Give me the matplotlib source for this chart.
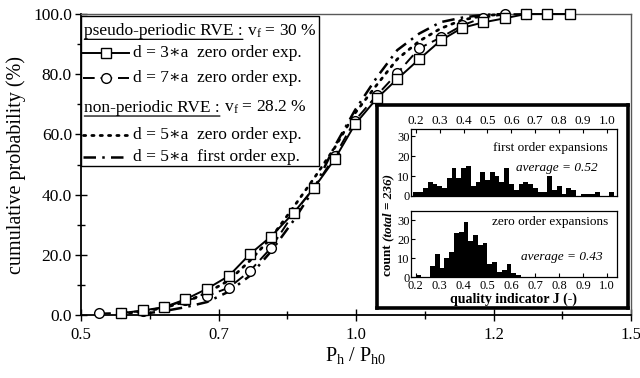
import matplotlib
matplotlib.use('Agg')
import matplotlib.pyplot as plt
from matplotlib.ticker import FixedLocator, MultipleLocator
from matplotlib.patches import Rectangle
from matplotlib.lines import Line2D

plt.rcParams['font.family'] = ['Liberation Serif', 'DejaVu Serif']
plt.rcParams['mathtext.fontset'] = 'custom'
plt.rcParams['mathtext.rm'] = 'Liberation Serif'
plt.rcParams['mathtext.it'] = 'Liberation Serif:italic'
plt.rcParams['mathtext.bf'] = 'Liberation Serif:bold'

# ---------------- data ----------------
# pseudo-periodic RVE, d = 3*a, zero order
x_d3 = [0.573, 0.612, 0.651, 0.690, 0.729, 0.769, 0.807, 0.845, 0.887, 0.924, 0.961,
        0.998, 1.038, 1.075, 1.115, 1.154, 1.193, 1.231, 1.271, 1.309, 1.347, 1.389]
y_d3 = [0.6, 1.5, 2.6, 5.2, 8.7, 13.0, 20.2, 26.0, 34.0, 42.3, 51.7,
        63.3, 72.0, 78.4, 85.0, 91.2, 95.4, 97.2, 98.6, 100.0, 100.0, 100.0]
# pseudo-periodic RVE, d = 7*a, zero order
x_d7 = [0.533, 0.573, 0.612, 0.651, 0.690, 0.729, 0.769, 0.807, 0.845, 0.887, 0.924,
        0.961, 0.998, 1.038, 1.075, 1.115, 1.154, 1.193, 1.231, 1.271, 1.309]
y_d7 = [0.5, 0.7, 1.3, 2.5, 4.9, 6.3, 9.1, 14.6, 22.2, 33.8, 42.3,
        52.7, 64.6, 73.0, 80.3, 88.6, 92.2, 96.2, 98.8, 99.9, 100.0]
# non-periodic RVE, d = 5*a, zero order
x_np0 = [0.573, 0.612, 0.651, 0.690, 0.729, 0.769, 0.807, 0.845, 0.887, 0.924,
         0.961, 0.998, 1.038, 1.075, 1.115, 1.154, 1.193, 1.231, 1.271]
y_np0 = [0.4, 1.1, 2.4, 4.4, 7.4, 11.5, 18.0, 25.5, 36.0, 45.5,
         55.5, 67.0, 76.5, 85.0, 91.0, 95.2, 98.0, 99.4, 100.0]
# non-periodic RVE, d = 5*a, first order
x_np1 = [0.612, 0.651, 0.690, 0.729, 0.769, 0.807, 0.845, 0.887, 0.924,
         0.961, 0.998, 1.038, 1.075, 1.115, 1.154, 1.193, 1.231, 1.271]
y_np1 = [0.4, 1.3, 2.6, 4.3, 7.8, 13.0, 21.0, 31.5, 42.0,
         56.0, 68.0, 79.0, 88.0, 93.5, 97.3, 98.8, 99.7, 100.0]

x_ticks = [0.5, 0.75, 1.0, 1.25, 1.5]
x_ticklabels = ['0.5', '0.7', '1.0', '1.2', '1.5']
y_ticks = [0, 20, 40, 60, 80, 100]
y_ticklabels = ['0.0', '20.0', '40.0', '60.0', '80.0', '100.0']

# inset histograms (quality indicator J)
j_first = [0.20, 0.22, 0.24, 0.26, 0.28, 0.30, 0.32, 0.34, 0.36, 0.38, 0.40, 0.42,
           0.44, 0.46, 0.48, 0.50, 0.52, 0.54, 0.56, 0.58, 0.60, 0.62, 0.64, 0.66,
           0.68, 0.70, 0.72, 0.74, 0.76, 0.78, 0.80, 0.82, 0.84, 0.86, 0.88, 0.90,
           0.92, 0.94, 0.96, 0.98, 1.00, 1.02]
n_first = [2, 2, 4, 7, 6, 5, 4, 9, 14, 9, 14, 15,
           5, 7, 12, 8, 12, 10, 7, 14, 6, 3, 6, 7,
           6, 4, 2, 2, 10, 3, 5, 1, 4, 3, 0, 1,
           1, 1, 2, 0, 0, 2]
j_zero = [0.21, 0.23, 0.25, 0.27, 0.29, 0.31, 0.33, 0.35, 0.37, 0.39, 0.41, 0.43,
          0.45, 0.47, 0.49, 0.51, 0.53, 0.55, 0.57, 0.59, 0.61, 0.63, 0.65, 0.67, 0.69]
n_zero = [1, 0, 0, 6, 12, 5, 10, 13, 23, 24, 29, 19,
          22, 17, 18, 7, 8, 3, 4, 7, 2, 1, 0.3, 0.3, 0.3]
hist_ticks = [0.2, 0.3, 0.4, 0.5, 0.6, 0.7, 0.8, 0.9, 1.0]
hist_ticklabels = ['0.2', '0.3', '0.4', '0.5', '0.6', '0.7', '0.8', '0.9', '1.0']
count_ticks = [0, 10, 20, 30]

# ---------------- figure ----------------
W, H = 640, 378
fig = plt.figure(figsize=(W / 100, H / 100), dpi=100)
ax = fig.add_axes([81 / W, 63 / H, 550 / W, 301 / H])

ax.plot(x_np0, y_np0, color='k', lw=2.0, ls=(0, (0.8, 2.2)), dash_capstyle='round',
        clip_on=False, zorder=3)
ax.plot(x_np1, y_np1, color='k', lw=1.8, ls=(0, (5, 2.5, 1, 2.5)), clip_on=False, zorder=3)
ax.plot(x_d7, y_d7, color='k', lw=1.4, ls=(0, (6, 3)), marker='o', ms=7, mfc='white',
        mec='k', mew=1.0, clip_on=False, zorder=4)
ax.plot(x_d3, y_d3, color='k', lw=1.4, ls='-', marker='s', ms=6.5, mfc='white',
        mec='k', mew=1.0, clip_on=False, zorder=5)

ax.set_xlim(0.5, 1.5)
ax.set_ylim(0, 100)
ax.xaxis.set_major_locator(FixedLocator(x_ticks))
ax.set_xticklabels(x_ticklabels)
ax.xaxis.set_minor_locator(MultipleLocator(0.125))
ax.yaxis.set_major_locator(FixedLocator(y_ticks))
ax.set_yticklabels(y_ticklabels)
ax.yaxis.set_minor_locator(MultipleLocator(10))
ax.tick_params(which='major', direction='inout', length=9, width=1.0, labelsize=12.5)
ax.tick_params(which='minor', direction='inout', length=6, width=1.0)
ax.tick_params(axis='x', pad=4, labelsize=12)
ax.tick_params(axis='y', pad=2)
for s in ['left', 'bottom']:
    ax.spines[s].set_linewidth(1.3)
for s in ['top', 'right']:
    ax.spines[s].set_linewidth(1.0)
    ax.spines[s].set_color('0.35')

ax.set_ylabel('cumulative probability (%)', fontsize=14.5)
ax.yaxis.set_label_coords(-0.10, 0.5)
ax.set_xlabel(r'P$_\mathrm{h}$ / P$_\mathrm{h0}$', fontsize=14.5)
ax.xaxis.set_label_coords(0.5, -0.10)

# ---------------- legend (manual) ----------------
T = ax.transAxes
ax.add_patch(Rectangle((0.0, 0.495), 0.4327, 0.4984, transform=T, facecolor='white',
                       edgecolor='k', lw=1.0, zorder=6, clip_on=False))
fs_leg = 12.5

def header(y, left, right):
    t1 = ax.text(0.006, y, left, transform=T, fontsize=fs_leg, va='center', ha='left', zorder=7)
    ax.annotate(right, xy=(1, 0.5), xycoords=t1, va='center', ha='left', fontsize=fs_leg,
                zorder=7)
    ax.annotate('', xy=(0, -0.02), xycoords=t1, xytext=(1, -0.02), textcoords=t1,
                arrowprops=dict(arrowstyle='-', lw=0.9, color='k', shrinkA=0, shrinkB=0),
                zorder=7)

header(0.9435, 'pseudo-periodic RVE :', r' v$_\mathrm{f}$ = 30 %')
header(0.6887, 'non-periodic RVE :', r' v$_\mathrm{f}$ = 28.2 %')

rows = [
    (0.8714, dict(color='k', lw=1.4, ls='-', marker='s', ms=6.5, mfc='white', mec='k', mew=1.0),
     'd = 3\u2217a  zero order exp.'),
    (0.7864, dict(color='k', lw=1.4, ls=(0, (6, 3)), marker='o', ms=7, mfc='white', mec='k', mew=1.0),
     'd = 7\u2217a  zero order exp.'),
    (0.598, dict(color='k', lw=2.0, ls=(0, (0.8, 2.2)), dash_capstyle='round'),
     'd = 5\u2217a  zero order exp.'),
    (0.5259, dict(color='k', lw=1.8, ls=(0, (5, 2.5, 1, 2.5))),
     'd = 5\u2217a  first order exp.'),
]
for y, style, label in rows:
    ln = Line2D([0.003, 0.0455, 0.088], [y, y, y], transform=T, zorder=7, clip_on=False,
                markevery=[1], **style)
    ax.add_line(ln)
    ax.text(0.095, y, label, transform=T, fontsize=fs_leg, va='center', ha='left', zorder=7)

# ---------------- inset ----------------
bg = fig.add_axes([377 / W, 70 / H, 251 / W, 203 / H], zorder=10)
bg.set_xticks([])
bg.set_yticks([])
for s in bg.spines.values():
    s.set_linewidth(2.6)

axh1 = fig.add_axes([411 / W, 182 / H, 206 / W, 66.7 / H], zorder=11)
axh2 = fig.add_axes([411 / W, 100.7 / H, 206 / W, 66.6 / H], zorder=11)

axh1.bar(j_first, n_first, width=0.02, color='k', align='center', linewidth=0)
axh2.bar(j_zero, n_zero, width=0.02, color='k', align='center', linewidth=0)

for a, top in [(axh1, 33.4), (axh2, 34.9)]:
    a.set_xlim(0.18, 1.042)
    a.set_ylim(0, top)
    a.xaxis.set_major_locator(FixedLocator(hist_ticks))
    a.set_xticklabels(hist_ticklabels)
    a.yaxis.set_major_locator(FixedLocator(count_ticks))
    a.tick_params(which='major', direction='in', length=3, width=0.8, labelsize=9.5, pad=1.5)
    a.tick_params(axis='y', labelsize=9, pad=1)
    for s in a.spines.values():
        s.set_linewidth(0.9)
axh1.xaxis.tick_top()
axh1.tick_params(axis='x', top=True, bottom=False, labeltop=True, labelbottom=False)
axh2.tick_params(axis='x', pad=2, labelsize=9)

axh1.text(0.675, 0.72, 'first order expansions', transform=axh1.transAxes, fontsize=9.5,
          ha='center', va='center')
axh1.text(0.707, 0.42, 'average = 0.52', transform=axh1.transAxes, fontsize=9.5,
          style='italic', ha='center', va='center')
axh2.text(0.675, 0.83, 'zero order expansions', transform=axh2.transAxes, fontsize=9.5,
          ha='center', va='center')
axh2.text(0.732, 0.305, 'average = 0.43', transform=axh2.transAxes, fontsize=9.5,
          style='italic', ha='center', va='center')
axh2.set_xlabel('quality indicator J (-)', fontsize=10, fontweight='bold')
axh2.xaxis.set_label_coords(0.5, -0.225)

c1 = fig.text(388 / W, (H - 276) / H, 'count ', fontsize=9.5, fontweight='bold',
              rotation=90, ha='center', va='bottom', zorder=12)
axh2.annotate('(total = 236)', xy=(0.5, 1.0), xycoords=c1, fontsize=9.5,
              fontweight='bold', style='italic', rotation=90, ha='center', va='bottom',
              annotation_clip=False, zorder=12)

fig.savefig('out.png', dpi=100)
